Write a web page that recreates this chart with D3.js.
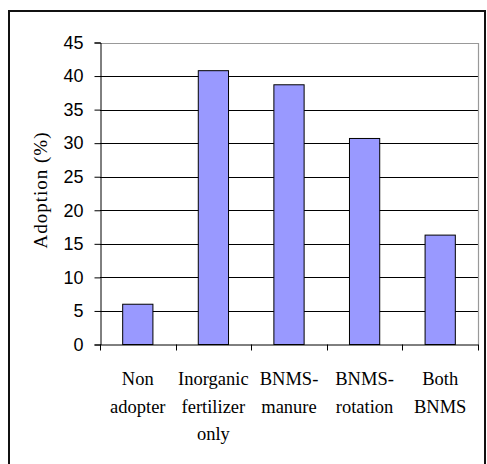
<!DOCTYPE html>
<html>
<head>
<meta charset="utf-8">
<script src="https://cdn.jsdelivr.net/npm/d3@7"></script>
<style>
  body { margin: 0; background: #fff; }
  svg { display: block; }
</style>
</head>
<body>
<div id="chart"></div>
<script>
// data
var categories = ["Non adopter", "Inorganic fertilizer only", "BNMS-manure", "BNMS-rotation", "Both BNMS"];
var catLines = [["Non", "adopter"], ["Inorganic", "fertilizer", "only"], ["BNMS-", "manure"], ["BNMS-", "rotation"], ["Both", "BNMS"]];
var adoption = [6, 40.8, 38.7, 30.7, 16.3];
var yTicks = [0, 5, 10, 15, 20, 25, 30, 35, 40, 45];

var width = 487, height = 464;
var plotLeft = 100, plotRight = 478, plotTop = 42.5, plotBottom = 344.5;

var svg = d3.select("#chart").append("svg")
    .attr("width", width)
    .attr("height", height);

// outer frame, cut off at right and bottom like the picture
svg.append("rect")
    .attr("x", 9).attr("y", 11)
    .attr("width", 476).attr("height", 470)
    .attr("fill", "none")
    .attr("stroke", "#111")
    .attr("stroke-width", 2);

var x = d3.scaleBand().domain(categories).range([plotLeft, plotRight]).paddingInner(0.6).paddingOuter(0.3);
var xEdge = d3.scaleBand().domain(categories).range([plotLeft, plotRight]);
var y = d3.scaleLinear().domain([0, 45]).range([plotBottom, plotTop]);

// gridlines
svg.append("g").selectAll("line")
    .data(yTicks.filter(function(d) { return d > 0 && d < 45; }))
    .enter().append("line")
    .attr("x1", plotLeft).attr("x2", plotRight)
    .attr("y1", function(d) { return Math.round(y(d)) + 0.5; })
    .attr("y2", function(d) { return Math.round(y(d)) + 0.5; })
    .attr("stroke", "#000")
    .attr("stroke-width", 1);

// plot area border top / right in gray
svg.append("path")
    .attr("d", "M" + plotLeft + "," + (Math.round(plotTop) + 0.5) + "H" + (plotRight + 0.5) + "V" + plotBottom)
    .attr("fill", "none")
    .attr("stroke", "#999")
    .attr("stroke-width", 1.2);

// bars
svg.append("g").selectAll("rect")
    .data(adoption)
    .enter().append("rect")
    .attr("x", function(d, i) { return x(categories[i]); })
    .attr("y", function(d) { return y(d); })
    .attr("width", x.bandwidth())
    .attr("height", function(d) { return plotBottom - y(d); })
    .attr("fill", "#9999ff")
    .attr("stroke", "#000")
    .attr("stroke-width", 1);

// y axis
var yAxis = svg.append("g")
    .attr("transform", "translate(" + (plotLeft + 0.5) + ",0)")
    .call(d3.axisLeft(y).tickValues(yTicks).tickSize(6).tickPadding(11));
yAxis.select(".domain").attr("stroke", "#000");
yAxis.selectAll("text")
    .attr("font-family", "Liberation Sans, Arial, sans-serif")
    .attr("font-size", 18)
    .attr("fill", "#000");

// x axis line with ticks at the category edges
svg.append("line")
    .attr("x1", plotLeft).attr("x2", plotRight + 0.5)
    .attr("y1", plotBottom + 0.5).attr("y2", plotBottom + 0.5)
    .attr("stroke", "#000");
svg.append("g").selectAll("line")
    .data(categories.concat(["end"]))
    .enter().append("line")
    .attr("x1", function(d, i) { return Math.round(i < categories.length ? xEdge(d) : plotRight) + 0.5; })
    .attr("x2", function(d, i) { return Math.round(i < categories.length ? xEdge(d) : plotRight) + 0.5; })
    .attr("y1", plotBottom).attr("y2", plotBottom + 6)
    .attr("stroke", "#000");

// category labels
var labels = svg.append("g").selectAll("text")
    .data(catLines)
    .enter().append("text")
    .attr("text-anchor", "middle")
    .attr("font-family", "Liberation Serif, Times New Roman, serif")
    .attr("font-size", 18.5)
    .attr("fill", "#000");
labels.each(function(lines, i) {
    var t = d3.select(this);
    var cx = xEdge(categories[i]) + xEdge.bandwidth() / 2;
    lines.forEach(function(s, j) {
        t.append("tspan").attr("x", cx).attr("y", 385 + j * 27.5).text(s);
    });
});

// y axis title
svg.append("text")
    .attr("transform", "translate(47,190) rotate(-90)")
    .attr("text-anchor", "middle")
    .attr("font-family", "Liberation Serif, Times New Roman, serif")
    .attr("font-size", 19)
    .attr("letter-spacing", 1)
    .attr("fill", "#000")
    .text("Adoption (%)");
</script>
</body>
</html>
